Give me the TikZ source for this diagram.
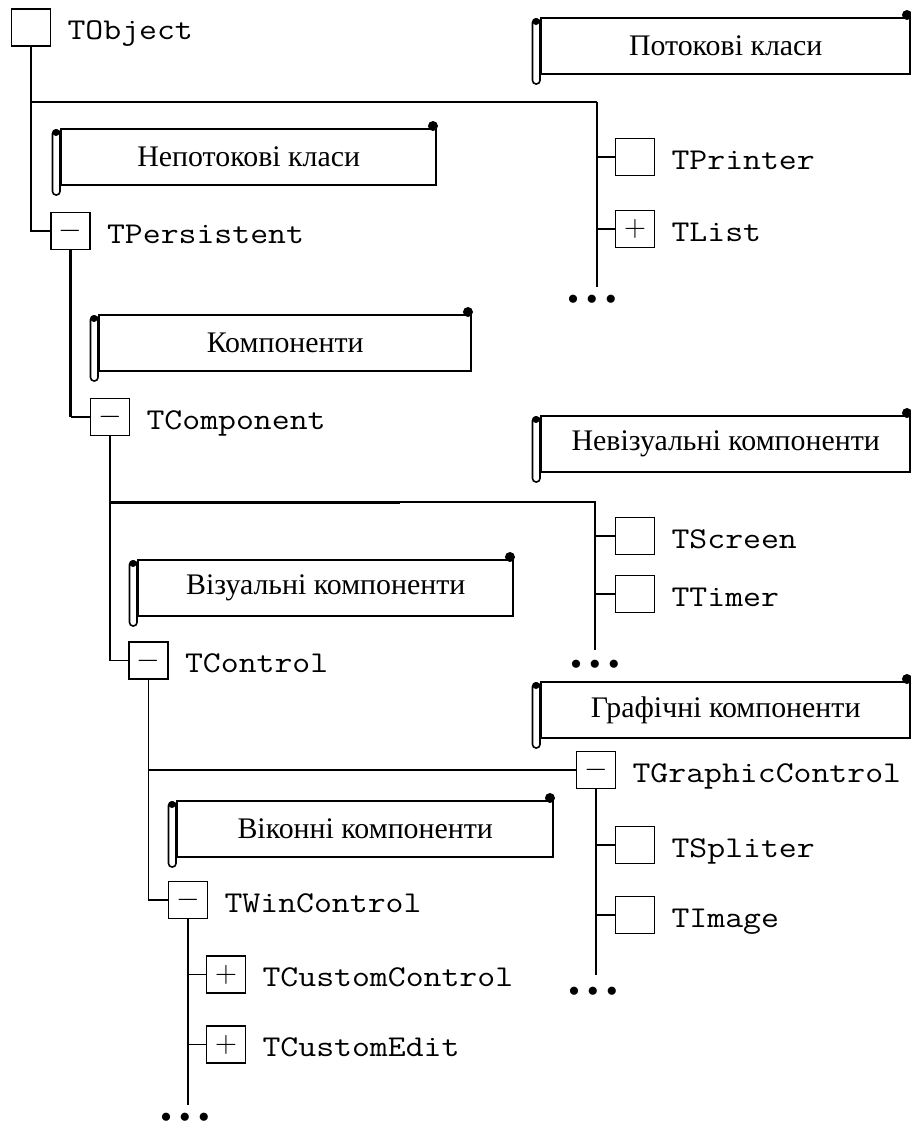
\documentclass[tikz,border=0pt]{standalone}
\usepackage{fontspec}
\setmainfont{Liberation Serif}
\setmonofont{Latin Modern Mono}[FakeStretch=1.15]
\usetikzlibrary{positioning}

\newcommand\moredots{$\bullet$\hspace{4.8pt}$\bullet$\hspace{4.8pt}$\bullet$}
% rolled ends of a caption scroll
\newcommand\scrollroll[1]{%
  \draw[line width=0.9pt, fill=white, rounded corners=0.7mm]
    ([xshift=-1.5mm,yshift=-0.4mm]#1.north west) rectangle ([yshift=-1.7mm]#1.south west);
  \fill ([xshift=-0.8mm,yshift=-0.9mm]#1.north west) circle (0.7mm);
  \fill ([xshift=-0.9mm,yshift=0.4mm]#1.north east) circle (1mm);
}

\begin{document}
\begin{tikzpicture}[x=0.2mm, y=-0.2mm,
  every node/.style={inner sep=0pt},
  cls/.style={draw, line width=0.8pt, minimum width=7.8mm, minimum height=7.4mm,
              font=\fontsize{16}{16}\selectfont},
  lbl/.style={anchor=base west, xshift=3.2mm, yshift=-2.4mm,
              font=\ttfamily\fontsize{17.2}{20}\selectfont},
  scroll/.style={draw, line width=1.4pt, anchor=north west, minimum height=11.2mm,
                 font=\fontsize{17}{20}\selectfont},
  dots/.style={font=\fontsize{12}{12}\selectfont},
  wire/.style={line width=0.6pt},
  wire2/.style={line width=1.1pt},
  trunk/.style={line width=1.7pt}
]
\useasboundingbox (0,0) rectangle (911,1124);

% captions
\node[scroll, minimum width=73.8mm] (streamcap) at (540,17) {Потокові класи};
\node[scroll, minimum width=75mm] (nonstreamcap) at (60,128) {Непотокові класи};
\node[scroll, minimum width=74.4mm] (compcap) at (98,314) {Компоненти};
\node[scroll, minimum width=73.8mm] (nviscap) at (540,415) {Невізуальні компоненти};
\node[scroll, minimum width=75mm] (viscap) at (137,559) {Візуальні компоненти};
\node[scroll, minimum width=73.8mm] (graphcap) at (540,681) {Графічні компоненти};
\node[scroll, minimum width=75.2mm] (wincap) at (176,800) {Віконні компоненти};
\scrollroll{streamcap}
\scrollroll{nonstreamcap}
\scrollroll{compcap}
\scrollroll{nviscap}
\scrollroll{viscap}
\scrollroll{graphcap}
\scrollroll{wincap}

% classes
\node[cls] (tobject) at (31,27.5) {};
\node[cls] (tpersist) at (70.5,231) {$-$};
\node[cls] (tcomp) at (110,417) {$-$};
\node[cls] (tprinter) at (635,157) {};
\node[cls] (tlist) at (635,229) {$+$};
\node[cls] (tscreen) at (635,536) {};
\node[cls] (ttimer) at (635,594) {};
\node[cls] (tcontrol) at (148.5,660.5) {$-$};
\node[cls] (tgraph) at (596,770) {$-$};
\node[cls] (tspliter) at (635,845) {};
\node[cls] (timage) at (635,915) {};
\node[cls] (twin) at (188,900) {$-$};
\node[cls] (tcustctl) at (226,974.5) {$+$};
\node[cls] (tcustedit) at (226,1044.5) {$+$};

\node[lbl] (tobject-t) at (tobject.east) {TObject};
\node[lbl] (tpersist-t) at (tpersist.east) {TPersistent};
\node[lbl] (tcomp-t) at (tcomp.east) {TComponent};
\node[lbl] (tprinter-t) at (tprinter.east) {TPrinter};
\node[lbl] (tlist-t) at (tlist.east) {TList};
\node[lbl] (tscreen-t) at (tscreen.east) {TScreen};
\node[lbl] (ttimer-t) at (ttimer.east) {TTimer};
\node[lbl] (tcontrol-t) at (tcontrol.east) {TControl};
\node[lbl] (tgraph-t) at (tgraph.east) {TGraphicControl};
\node[lbl] (tspliter-t) at (tspliter.east) {TSpliter};
\node[lbl] (timage-t) at (timage.east) {TImage};
\node[lbl] (twin-t) at (twin.east) {TWinControl};
\node[lbl] (tcustctl-t) at (tcustctl.east) {TCustomControl};
\node[lbl] (tcustedit-t) at (tcustedit.east) {TCustomEdit};

% TObject
\coordinate (stream) at (597,102);
\coordinate (streamend) at (597,287);
\draw[wire] (tobject.south) |- (tpersist.west);
\draw[wire] (tobject.south |- stream) -- (stream);
\draw[wire2] (stream) -- (streamend);
\draw[wire2] (tprinter.west -| stream) -- (tprinter.west);
\draw[wire] (tlist.west -| stream) -- (tlist.west);
\node[dots] (streamdots) at ([xshift=-1mm,yshift=-2.6mm]streamend) {\moredots};

% TPersistent
\draw[trunk] (tpersist.south) -- (tpersist.south |- tcomp.west);
\draw[wire] (tpersist.south |- tcomp.west) -- (tcomp.west);

% TComponent
\coordinate (nvisfade) at (400,502);
\coordinate (nvis) at (595,502);
\coordinate (nvisend) at (595,650);
\draw[trunk] (tcomp.south) -- (tcomp.south |- tcontrol.west);
\draw[wire] (tcomp.south |- tcontrol.west) -- (tcontrol.west);
\draw[trunk] (tcomp.south |- nvis) -- (nvisfade);
\draw[wire] (nvisfade) -- (nvis) -- (nvisend);
\draw[wire] (tscreen.west -| nvis) -- (tscreen.west);
\draw[wire] (ttimer.west -| nvis) -- (ttimer.west);
\node[dots] (nvisdots) at ([yshift=-3mm]nvisend) {\moredots};

% TControl
\draw[wire] (tcontrol.south) |- (twin.west);
\draw[wire] (tcontrol.south |- tgraph.west) -- (tgraph.west);

% TGraphicControl
\coordinate (graphend) at (596,975);
\draw[trunk] (tgraph.south) -- (graphend);
\draw[wire] (tspliter.west -| tgraph.south) -- (tspliter.west);
\draw[wire] (timage.west -| tgraph.south) -- (timage.west);
\node[dots] (graphdots) at ([xshift=-0.6mm,yshift=-3.4mm]graphend) {\moredots};

% TWinControl
\coordinate (winend) at (188,1105);
\draw[trunk] (twin.south) -- (winend);
\draw[wire2] (tcustctl.west -| twin.south) -- (tcustctl.west);
\draw[wire2] (tcustedit.west -| twin.south) -- (tcustedit.west);
\node[dots] (windots) at ([xshift=-0.6mm,yshift=-2.6mm]winend) {\moredots};
\end{tikzpicture}
\end{document}
